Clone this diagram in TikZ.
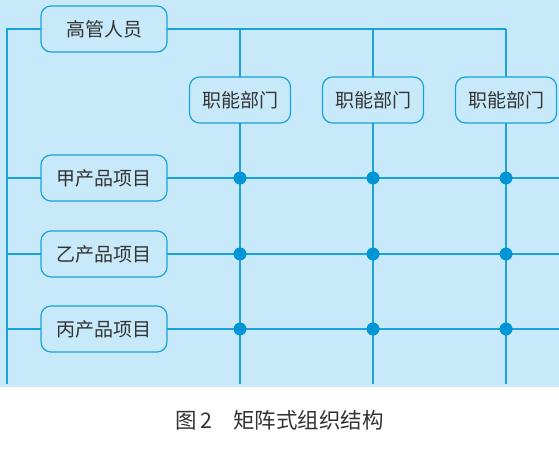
\documentclass[tikz,border=0pt]{standalone}
\usepackage{fontspec}
\newfontfamily\cjk{Noto Sans CJK SC}
\definecolor{bgblue}{HTML}{C8E9F9}
\definecolor{lineblue}{HTML}{1AA3DA}
\definecolor{dotblue}{HTML}{0096D6}
\definecolor{txt}{HTML}{333333}
\begin{document}
\begin{tikzpicture}[x=1pt,y=-1pt,
  box/.style={draw=lineblue,line width=1.2pt,rounded corners=10pt,fill=bgblue,
    minimum height=46pt,inner sep=0pt,font=\cjk\fontsize{19}{22}\selectfont,text=txt},
  wbox/.style={box,minimum width=126pt},
  fbox/.style={box,minimum width=101pt},
  ln/.style={draw=lineblue,line width=1.2pt},
  dot/.style={circle,fill=dotblue,inner sep=0pt,minimum size=13pt}]
\useasboundingbox (0,0) rectangle (559,449);
\fill[white] (0,0) rectangle (559,449);
\fill[bgblue] (0,0) rectangle (559,387);
% coordinates
\coordinate (L0) at (7,29);
\coordinate (Lb) at (7,384);
\coordinate (V1t) at (240,29);
\coordinate (V2t) at (373,29);
\coordinate (V3t) at (506,29);
\coordinate (V1b) at (240,384);
\coordinate (V2b) at (373,384);
\coordinate (V3b) at (506,384);
\coordinate (L1) at (7,178);
\coordinate (L2) at (7,254);
\coordinate (L3) at (7,329);
\coordinate (R1) at (559,178);
\coordinate (R2) at (559,254);
\coordinate (R3) at (559,329);
% lines
\draw[ln] (Lb) -- (L0) -- (41,29);
\draw[ln] (167,29) -- (V3t);
\draw[ln] (V1t) -- (V1b);
\draw[ln] (V2t) -- (V2b);
\draw[ln] (V3t) -- (V3b);
\draw[ln] (L1) -- (R1);
\draw[ln] (L2) -- (R2);
\draw[ln] (L3) -- (R3);
% nodes
\node[wbox] (top) at (104,29) {高管人员};
\node[fbox] (f1) at (240,100) {职能部门};
\node[fbox] (f2) at (373,100) {职能部门};
\node[fbox] (f3) at (506,100) {职能部门};
\node[wbox] (p1) at (104,178) {甲产品项目};
\node[wbox] (p2) at (104,254) {乙产品项目};
\node[wbox] (p3) at (104,329) {丙产品项目};
\foreach \x/\i in {240/1,373/2,506/3}{
  \node[dot] (d1\i) at (\x,178) {};
  \node[dot] (d2\i) at (\x,254) {};
  \node[dot] (d3\i) at (\x,329) {};
}
\node[font=\cjk\fontsize{21.5}{24}\selectfont,text=txt] (cap) at (279.5,420) {图\,2\hspace{21pt}矩阵式组织结构};
\end{tikzpicture}
\end{document}
